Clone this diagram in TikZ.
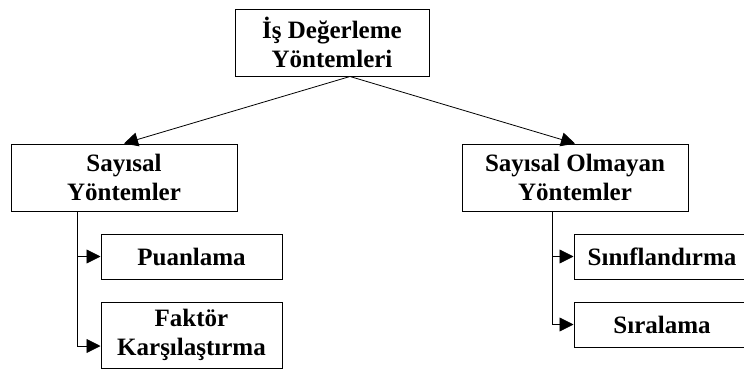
\documentclass[tikz,border=0pt]{standalone}
\usepackage{fontspec}
\setmainfont{Liberation Serif}
\usetikzlibrary{arrows.meta,calc}
\tikzset{
  box/.style={draw=black, line width=1pt, rectangle, align=center, inner sep=0pt,
    font=\fontsize{25}{29}\selectfont\bfseries},
  link/.style={line width=0.8pt, -{Triangle[length=14pt,width=14pt]}}
}
\begin{document}
\begin{tikzpicture}[x=1pt,y=-1pt]
\useasboundingbox (0,0) rectangle (744,370);
\clip (0,0) rectangle (744,370);
% top level
\node[box, minimum width=194pt, minimum height=67pt] (top) at (332,42.5) {İş Değerleme\\Yöntemleri};
% second level
\node[box, minimum width=226pt, minimum height=67pt] (say) at (124,177.5) {Sayısal\\Yöntemler};
\node[box, minimum width=226pt, minimum height=67pt] (non) at (575,177.5) {Sayısal Olmayan\\Yöntemler};
% leaves
\node[box, minimum width=181pt, minimum height=45pt] (puan) at (191.5,256.5) {Puanlama};
\node[box, minimum width=181pt, minimum height=66pt] (fakt) at (191.5,335) {Faktör\\Karşılaştırma};
\node[box, minimum width=176pt, minimum height=45pt] (sinif) at (662,256.5) {Sınıflandırma};
\node[box, minimum width=176pt, minimum height=45pt] (sira) at (662,324.5) {Sıralama};
% connectors
\coordinate (split) at ($(top.south)+(18,0)$);
\draw[link] (split) -- (say.north);
\draw[link] (split) -- (non.north);
\coordinate (ltrunk) at ($(say.south west)+(67,0)$);
\coordinate (rtrunk) at ($(non.south west)+(91,0)$);
\coordinate (faktin) at ($(fakt.west)+(0,11)$);
\draw[link] (ltrunk) |- (puan.west);
\draw[link] (ltrunk) |- (faktin);
\draw[link] (rtrunk) |- (sinif.west);
\draw[link] (rtrunk) |- (sira.west);
\end{tikzpicture}
\end{document}
